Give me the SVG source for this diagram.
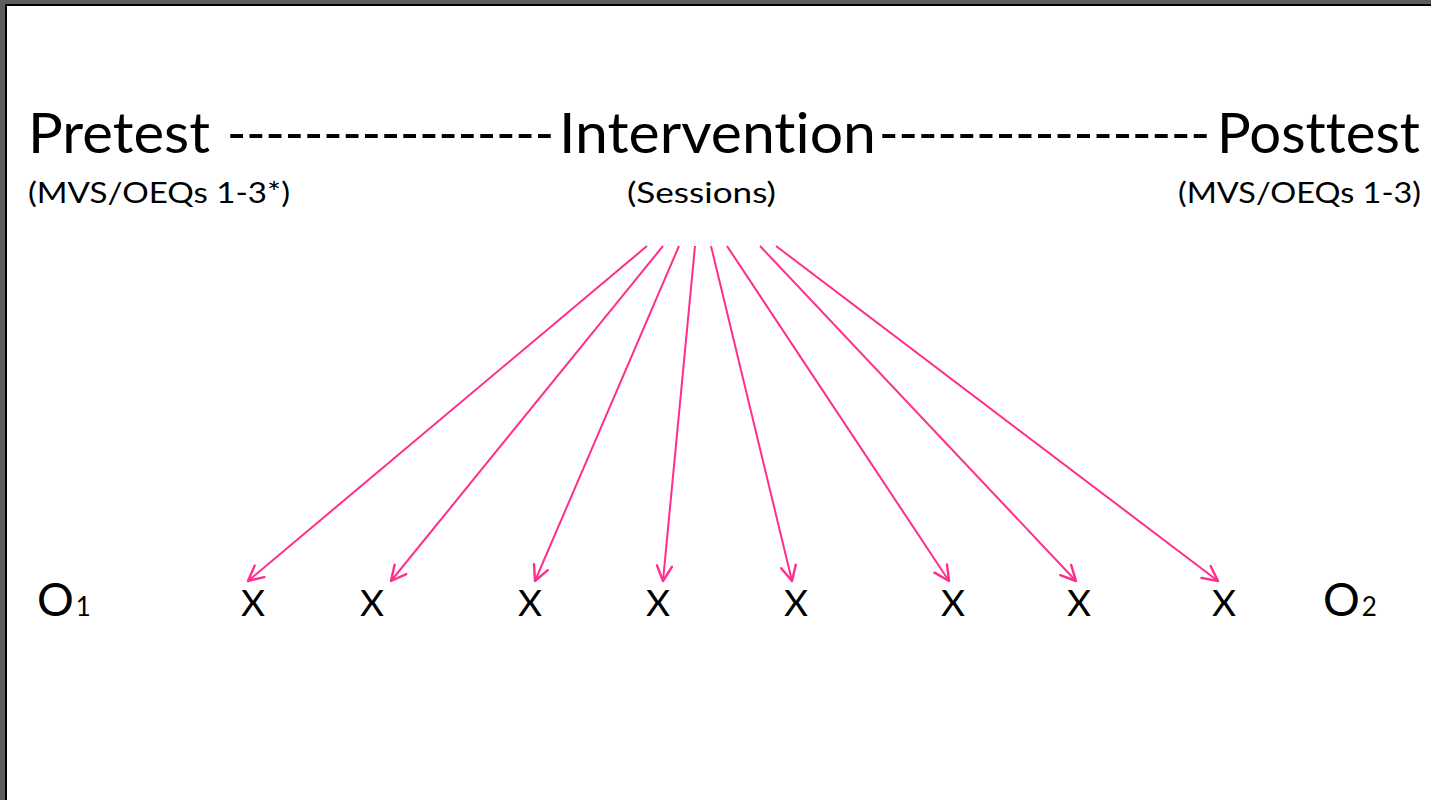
<svg xmlns="http://www.w3.org/2000/svg" width="1431" height="800" viewBox="0 0 1431 800">
  <style>
    .t { font-family: Lato, "Open Sans", "Liberation Sans", sans-serif; fill: #000; font-variant-ligatures: none; font-feature-settings: "liga" 0, "clig" 0; }
    .big { font-size: 57px; }
    .dash { font-size: 53px; }
    .sub { font-size: 28px; }
    .o { font-size: 46px; }
    .x { font-size: 37px; }
    .d { font-size: 26px; }
    .arrow { stroke: #FF2E8C; stroke-width: 2; fill: none; marker-end: url(#ah); }
  </style>
  <defs>
    <marker id="ah" markerUnits="userSpaceOnUse" viewBox="-17 -10 20 20" refX="0" refY="0" markerWidth="20" markerHeight="20" orient="auto">
      <path d="M-15,-7.5 L0,0 L-15,7.5" fill="none" stroke="#FF2E8C" stroke-width="2.4" stroke-linecap="round" stroke-linejoin="round"/>
    </marker>
  </defs>

  <g id="frame">
    <rect x="0" y="0" width="1431" height="800" fill="#5e5e5e"/>
    <rect x="5" y="4" width="1426" height="796" fill="#000"/>
    <rect x="7" y="6" width="1424" height="794" fill="#fff"/>
  </g>

  <g id="pretest">
    <text class="t big" x="28" y="153" textLength="182" lengthAdjust="spacingAndGlyphs">Pretest</text>
    <text class="t sub" x="28" y="203" textLength="262" lengthAdjust="spacingAndGlyphs">(MVS/OEQs 1-3*)</text>
  </g>
  <g id="dashes-left">
    <text class="t dash" x="227" y="152" textLength="327" lengthAdjust="spacingAndGlyphs">-----------------</text>
  </g>
  <g id="intervention">
    <text class="t big" x="559" y="153" textLength="317" lengthAdjust="spacingAndGlyphs">Intervention</text>
    <text class="t sub" x="627" y="203" textLength="149" lengthAdjust="spacingAndGlyphs">(Sessions)</text>
  </g>
  <g id="dashes-right">
    <text class="t dash" x="879" y="152" textLength="331" lengthAdjust="spacingAndGlyphs">-----------------</text>
  </g>
  <g id="posttest">
    <text class="t big" x="1217" y="153" textLength="203" lengthAdjust="spacingAndGlyphs">Posttest</text>
    <text class="t sub" x="1178" y="203" textLength="243" lengthAdjust="spacingAndGlyphs">(MVS/OEQs 1-3)</text>
  </g>

  <g id="o1">
    <text class="t o" x="37" y="616">O<tspan class="d" dx="2">1</tspan></text>
  </g>
  <g id="x1"><text class="t x" x="253" y="616" text-anchor="middle">X</text></g>
  <g id="x2"><text class="t x" x="372" y="616" text-anchor="middle">X</text></g>
  <g id="x3"><text class="t x" x="530" y="616" text-anchor="middle">X</text></g>
  <g id="x4"><text class="t x" x="658" y="616" text-anchor="middle">X</text></g>
  <g id="x5"><text class="t x" x="796" y="616" text-anchor="middle">X</text></g>
  <g id="x6"><text class="t x" x="953" y="616" text-anchor="middle">X</text></g>
  <g id="x7"><text class="t x" x="1079" y="616" text-anchor="middle">X</text></g>
  <g id="x8"><text class="t x" x="1224" y="616" text-anchor="middle">X</text></g>
  <g id="o2">
    <text class="t o" x="1323" y="616">O<tspan class="d" dx="2">2</tspan></text>
  </g>

  <g id="connectors">
    <line class="arrow" x1="647" y1="246" x2="248" y2="581"/>
    <line class="arrow" x1="663" y1="246" x2="391" y2="581"/>
    <line class="arrow" x1="679" y1="246" x2="535" y2="581"/>
    <line class="arrow" x1="695" y1="246" x2="663" y2="581"/>
    <line class="arrow" x1="711" y1="246" x2="792" y2="581"/>
    <line class="arrow" x1="727" y1="246" x2="949" y2="581"/>
    <line class="arrow" x1="760" y1="246" x2="1076" y2="581"/>
    <line class="arrow" x1="776" y1="246" x2="1218" y2="581"/>
  </g>
</svg>
